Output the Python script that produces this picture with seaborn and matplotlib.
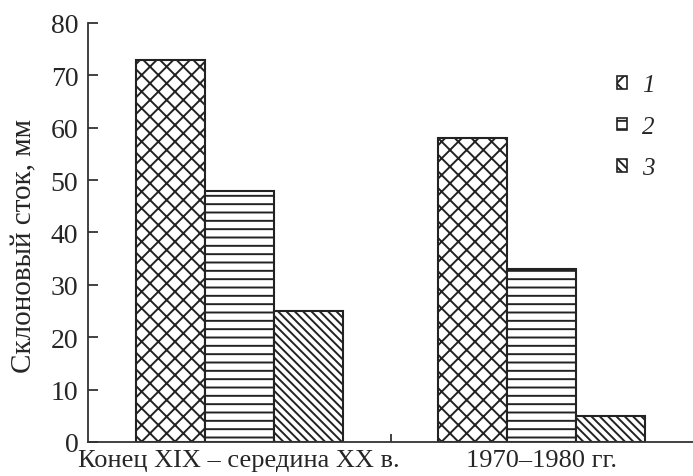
import matplotlib
matplotlib.use("Agg")
import matplotlib.pyplot as plt
import seaborn as sns
import pandas as pd
from matplotlib.patches import Patch
from matplotlib.ticker import FixedLocator

periods = ["Конец XIX – середина XX в.", "1970–1980 гг."]
series = ["1", "2", "3"]
values_1 = [73, 58]
values_2 = [48, 33]
values_3 = [25, 5]
hatches = ["xx", "--", "\\\\\\\\"]

sns.set_theme(style="white")
plt.rcParams["font.family"] = ["Liberation Serif", "DejaVu Serif"]
plt.rcParams["hatch.linewidth"] = 1.4
plt.rcParams["hatch.color"] = "#222222"

rows = []
for s, vals in zip(series, [values_1, values_2, values_3]):
    for p, v in zip(periods, vals):
        rows.append({"period": p, "series": s, "value": v})
df = pd.DataFrame(rows)

fig = plt.figure(figsize=(6.93, 4.77), dpi=100)
ax = fig.add_axes([0.127, 0.0713, 0.873, 0.8784])

sns.barplot(data=df, x="period", y="value", hue="series", order=periods,
            hue_order=series, width=0.685, palette=["white"] * 3,
            edgecolor="#222222", linewidth=1.5, legend=False, ax=ax, saturation=1)

for container, h in zip(ax.containers, hatches):
    for bar in container:
        bar.set_hatch(h)
        bar.set_facecolor("white")
        bar.set_edgecolor("#222222")

ax.set_xlim(-0.5, 1.5)
ax.set_ylim(0, 80)
ax.set_yticks(range(0, 81, 10))
ax.set_xlabel("")
ax.set_ylabel("Склоновый сток, мм", fontsize=21)
ax.yaxis.set_label_coords(-0.083, 0.47)

for side in ["top", "right"]:
    ax.spines[side].set_visible(False)
for side in ["left", "bottom"]:
    ax.spines[side].set_color("#333333")
    ax.spines[side].set_linewidth(1.3)

ax.tick_params(axis="y", direction="in", length=7, width=1.3, color="#333333",
               labelsize=20, pad=7, left=True)
ax.tick_params(axis="x", which="major", length=0, labelsize=19, pad=5)
ax.xaxis.set_minor_locator(FixedLocator([0.5]))
ax.tick_params(axis="x", which="minor", direction="in", length=6, width=1.3,
               color="#333333", bottom=True)

handles = [Patch(facecolor="white", edgecolor="#222222", hatch=h, linewidth=1.2)
           for h in hatches]
leg = ax.legend(handles, ["1", "2", "3"], loc="upper right",
                bbox_to_anchor=(0.974, 0.931), frameon=False,
                handlelength=0.4, handleheight=0.4, handletextpad=0.6,
                labelspacing=0.78, borderpad=0.4,
                prop={"family": "Liberation Serif", "style": "italic", "size": 18})

fig.savefig("out.png", dpi=100)
